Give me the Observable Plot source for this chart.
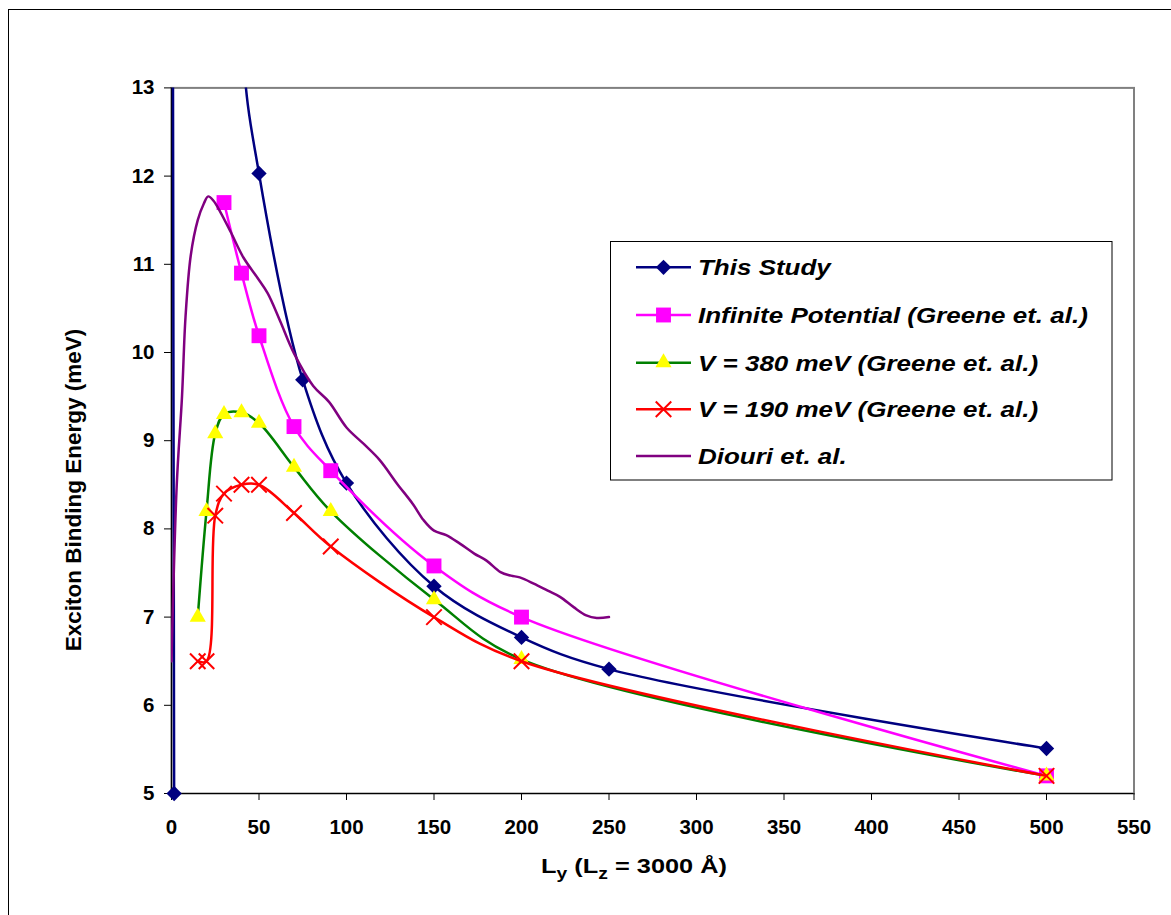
<!DOCTYPE html>
<html>
<head>
<meta charset="utf-8">
<script src="https://cdn.jsdelivr.net/npm/d3@7"></script>
<script src="https://cdn.jsdelivr.net/npm/@observablehq/plot@0.6"></script>
<style>
  body { margin: 0; background: #fff; }
  #wrap { position: relative; width: 1171px; height: 915px; overflow: hidden; font-family: "Liberation Sans", Arial, sans-serif; }
  #outer { position: absolute; left: 8px; top: 9px; width: 1300px; height: 1100px; border: 1px solid #000; }
  #chart, #overlay { position: absolute; left: 0; top: 0; }
</style>
</head>
<body>
<div id="wrap">
  <div id="outer"></div>
  <div id="chart"></div>
  <svg id="overlay" width="1171" height="915"></svg>
</div>
<script>
// ---- data ----
const seriesNames = ["This Study", "Infinite Potential (Greene et. al.)", "V = 380 meV (Greene et. al.)", "V = 190 meV (Greene et. al.)", "Diouri et. al."];
const seriesColors = ["#000080", "#FF00FF", "#008000", "#FF0000", "#800080"];
const markerFills = ["#000080", "#FF00FF", "#FFFF00", "none", null];

// the 2nd and 3rd "This Study" points lie above the plotted range (estimated)
const thisStudyX = [1.5, 2.5, 40, 50, 75, 100, 150, 200, 250, 500];
const thisStudyY = [5, 60, 13.6, 12.03, 9.69, 8.52, 7.35, 6.77, 6.41, 5.51];

const infiniteX = [30, 40, 50, 70, 91, 150, 200, 500];
const infiniteY = [11.7, 10.9, 10.19, 9.16, 8.66, 7.58, 7.0, 5.2];

const v380X = [15, 20, 25, 30, 40, 50, 70, 91, 150, 200, 500];
const v380Y = [7.0, 8.2, 9.08, 9.3, 9.32, 9.2, 8.7, 8.2, 7.2, 6.52, 5.2];

const v190X = [15, 20, 25, 30, 40, 50, 70, 91, 150, 200, 500];
const v190Y = [6.5, 6.5, 8.15, 8.4, 8.5, 8.5, 8.18, 7.8, 7.0, 6.5, 5.2];

const diouriX = [0, 3, 6, 8, 11, 15, 18.5, 21, 24, 28, 34, 41, 49, 55, 62, 70, 81, 90, 100, 110, 119, 129, 138, 144, 150, 157, 165, 173, 180, 188, 194, 199, 207, 215, 222, 230, 237, 243, 250];
const diouriY = [6.5, 8.5, 9.5, 10.4, 11.1, 11.5, 11.69, 11.77, 11.72, 11.59, 11.36, 11.08, 10.85, 10.67, 10.36, 9.99, 9.62, 9.44, 9.15, 8.96, 8.78, 8.51, 8.28, 8.1, 7.98, 7.93, 7.83, 7.72, 7.64, 7.51, 7.47, 7.45, 7.38, 7.3, 7.23, 7.11, 7.02, 6.99, 7.0];

const xTicks = [0, 50, 100, 150, 200, 250, 300, 350, 400, 450, 500, 550];
const yTicks = [5, 6, 7, 8, 9, 10, 11, 12, 13];

const xTitle = ["L", "y", " (L", "z", " = 3000 Å)"];
const yTitle = "Exciton Binding Energy (meV)";

// ---- build tables ----
const zip = (xs, ys) => xs.map((x, i) => ({x, y: ys[i]}));
const thisStudy = zip(thisStudyX, thisStudyY);
const infinite = zip(infiniteX, infiniteY);
const v380 = zip(v380X, v380Y);
const v190 = zip(v190X, v190Y);
const diouri = zip(diouriX, diouriY);
const yMax = 13;
const visible = (arr) => arr.filter(d => d.y <= yMax);

const font = "'Liberation Sans', Arial, sans-serif";
const lw = 2.5;

const chart = Plot.plot({
  width: 1171,
  height: 915,
  marginLeft: 171,
  marginRight: 37.5,
  marginTop: 87.4,
  marginBottom: 122,
  style: {fontFamily: font, fontSize: "20.5px", fontWeight: "bold", color: "#000", background: "transparent", overflow: "visible"},
  x: {domain: [0, 550]},
  y: {domain: [5, yMax]},
  marks: [
    Plot.frame({stroke: "#808080", strokeWidth: 2}),
    Plot.axisX({ticks: xTicks, tickSize: 7, tickPadding: 19, label: null, fontSize: 20.5, fontWeight: "bold", stroke: "#000"}),
    Plot.axisY({ticks: yTicks, tickSize: 7, tickPadding: 10, label: null, fontSize: 20.5, fontWeight: "bold", stroke: "#000"}),
    Plot.ruleX([0], {stroke: "#000", strokeWidth: 1.2}),
    Plot.ruleY([5], {stroke: "#000", strokeWidth: 1.2}),

    Plot.line(thisStudy, {x: "x", y: "y", stroke: seriesColors[0], strokeWidth: lw, curve: "catmull-rom", clip: true}),
    Plot.dot(visible(thisStudy), {x: "x", y: "y", symbol: "diamond2", fill: markerFills[0], stroke: "none", r: 6.9}),

    Plot.line(infinite, {x: "x", y: "y", stroke: seriesColors[1], strokeWidth: lw, curve: "catmull-rom", clip: true}),
    Plot.dot(visible(infinite), {x: "x", y: "y", symbol: "square", fill: markerFills[1], stroke: "none", r: 8.4}),

    Plot.line(v380, {x: "x", y: "y", stroke: seriesColors[2], strokeWidth: lw, curve: "catmull-rom", clip: true}),
    Plot.dot(visible(v380), {x: "x", y: "y", symbol: "triangle", fill: markerFills[2], stroke: "none", r: 6.0}),

    Plot.line(v190, {x: "x", y: "y", stroke: seriesColors[3], strokeWidth: lw, curve: "catmull-rom", clip: true}),
    Plot.dot(visible(v190), {x: "x", y: "y", symbol: "times", fill: "none", stroke: seriesColors[3], strokeWidth: 2, r: 7.1}),

    Plot.line(diouri, {x: "x", y: "y", stroke: seriesColors[4], strokeWidth: lw, curve: "catmull-rom", clip: true})
  ]
});
document.getElementById("chart").appendChild(chart);

// ---- titles and legend overlay ----
const svg = d3.select("#overlay");

// x title (stretched horizontally like the original)
const xg = svg.append("g");
const xt = xg.append("text")
  .attr("x", 0).attr("y", 0)
  .attr("text-anchor", "middle")
  .attr("font-family", font).attr("font-weight", "bold").attr("font-size", 21);
xTitle.forEach((s, i) => {
  const t = xt.append("tspan").text(s);
  if (i % 2 === 1) t.attr("dy", 6).attr("font-size", 16);
  else if (i > 0) t.attr("dy", -6);
});
const xw = xt.node().getBBox().width;
xg.attr("transform", `translate(634,873) scale(${186 / xw},1)`);

svg.append("text")
  .attr("transform", "translate(80.5,490) rotate(-90)")
  .attr("text-anchor", "middle")
  .attr("font-family", font).attr("font-weight", "bold").attr("font-size", 22.5)
  .text(yTitle);

// legend
const lg = svg.append("g");
lg.append("rect").attr("x", 610.5).attr("y", 241.5).attr("width", 501.5).attr("height", 238.5)
  .attr("fill", "#fff").attr("stroke", "#000").attr("stroke-width", 1);
const rowY = [267.3, 315, 362.7, 409.3, 456];
const symbols = [d3.symbolDiamond2, d3.symbolSquare, d3.symbolTriangle, d3.symbolTimes, null];
const symR = [6.9, 8.4, 6.0, 7.1, 0];
const labels = [];
seriesNames.forEach((name, i) => {
  const y = rowY[i];
  lg.append("line").attr("x1", 636).attr("x2", 691).attr("y1", y).attr("y2", y)
    .attr("stroke", seriesColors[i]).attr("stroke-width", lw);
  if (symbols[i]) {
    const p = lg.append("path")
      .attr("d", d3.symbol(symbols[i], symR[i] * symR[i] * Math.PI)())
      .attr("transform", `translate(663.5,${y})`);
    if (i === 3) p.attr("fill", "none").attr("stroke", seriesColors[3]).attr("stroke-width", 2);
    else p.attr("fill", markerFills[i]);
  }
  const g = lg.append("g");
  const t = g.append("text").attr("x", 0).attr("y", 0)
    .attr("font-family", font).attr("font-weight", "bold").attr("font-style", "italic").attr("font-size", 21.5)
    .text(name);
  labels.push({g, t, y});
});
// widest legend entry spans ~390px in the original
const lw1 = labels[1].t.node().getComputedTextLength();
const sx = 390 / lw1;
labels.forEach(({g, y}) => g.attr("transform", `translate(698,${y + 8}) scale(${sx},1)`));
</script>
</body>
</html>
